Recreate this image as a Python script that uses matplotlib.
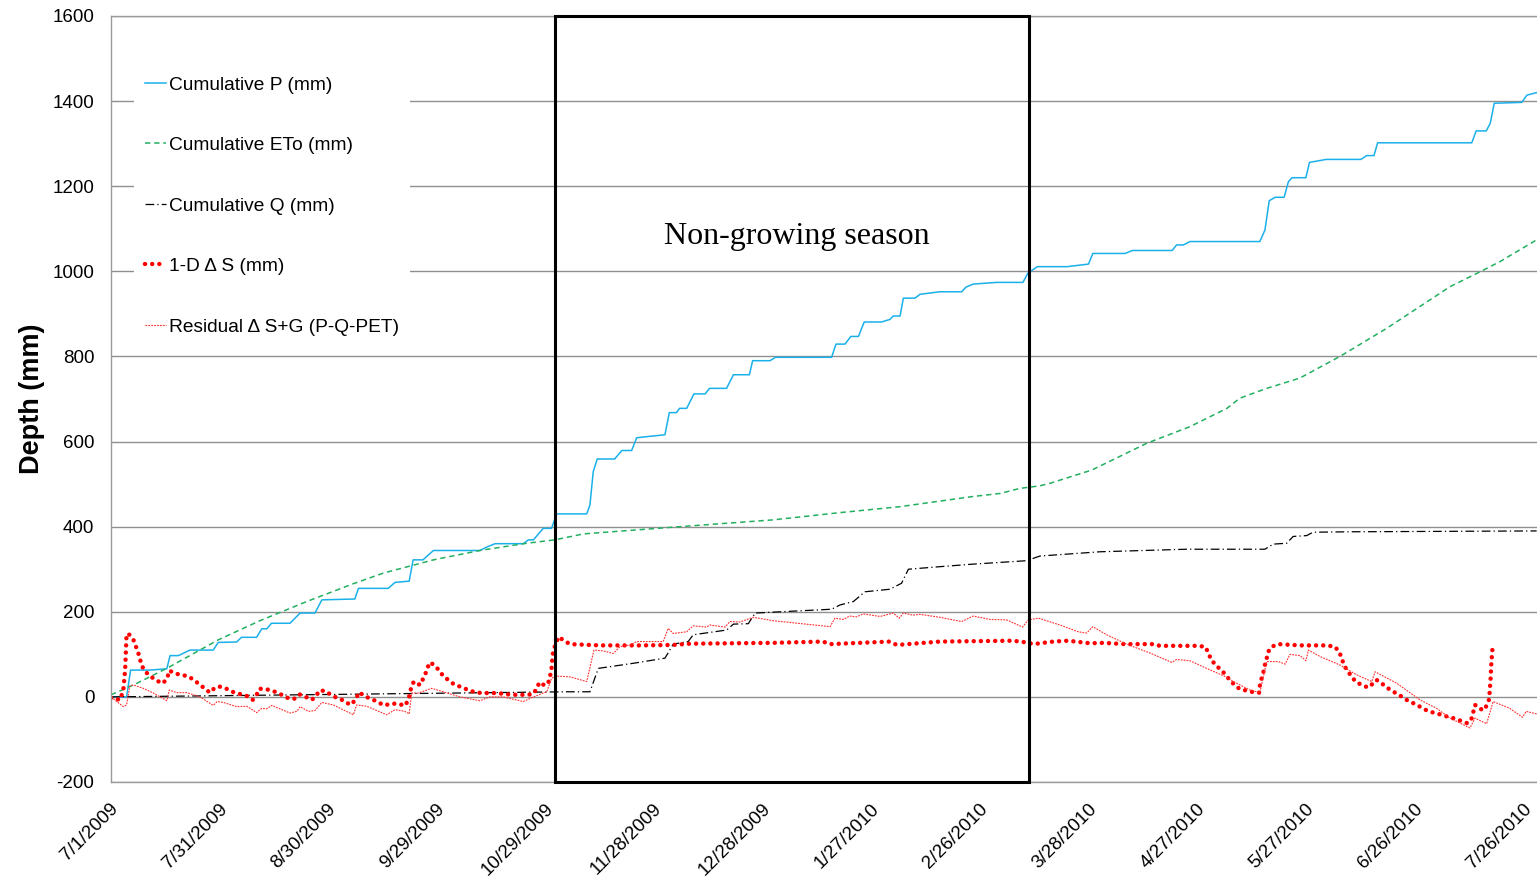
import numpy as np
import matplotlib
matplotlib.use("Agg")
import matplotlib.pyplot as plt
import matplotlib.dates as mdates
from matplotlib.patches import Rectangle
from matplotlib.transforms import ScaledTranslation
from datetime import datetime, timedelta

matplotlib.rcParams['font.family'] = 'sans-serif'
matplotlib.rcParams['font.sans-serif'] = ['Liberation Sans', 'DejaVu Sans']
matplotlib.rcParams['axes.unicode_minus'] = False

# day offsets counted from 7/1/2009
start = datetime(2009, 7, 1)

p_days = [0, 4.3, 5.4, 10.8, 15.4, 16.3, 18.6, 21.8, 28.2, 29.6, 34.7, 36, 40.2, 41.6, 43, 44.3,
          49.4, 52.2, 56.3, 58.2, 67.3, 68.3, 76.5, 78.4, 82.3, 83.4, 86.1, 89, 101.8, 103.7, 106,
          113.8, 115.2, 116.6, 119.3, 121.6, 123, 131.3, 132.2, 133.1, 134.2, 139, 141, 143.7,
          145.1, 152.9, 154.1, 156.1, 156.9, 158.9, 160.9, 164, 165.2, 169.9, 171.8, 176.2, 177.1,
          181.9, 183.4, 198.9, 200.1, 202.6, 204.2, 206.3, 207.9, 212.7, 215, 215.9, 217.8, 218.7,
          221.9, 223.3, 228.8, 234.8, 236, 238, 244.4, 251.7, 253.1, 255.7, 263.9, 269.8, 271,
          279.9, 281.9, 292.9, 294.1, 296, 297.8, 317.1, 318.5, 319.7, 321.3, 323.8, 325, 326,
          329.8, 330.8, 335.4, 345, 346.6, 348.6, 349.6, 375.6, 376.8, 379.6, 380.7, 381.8, 389.4,
          390.8, 393.5]
p_vals = [0, 0, 63, 63, 66, 97, 97, 110, 110, 128, 129, 140, 140, 160, 160, 173,
          173, 197, 197, 228, 230, 255, 255, 269, 272, 322, 322, 344, 344, 352, 360,
          360, 369, 369, 396, 396, 430, 430, 451, 529, 559, 559, 579, 579,
          609, 616, 668, 668, 678, 678, 712, 712, 725, 725, 757, 757, 790,
          790, 798, 798, 829, 829, 847, 847, 881, 881, 887, 895, 895, 937,
          937, 946, 952, 952, 963, 970, 974, 974, 996, 1011, 1011, 1017, 1042,
          1042, 1049, 1049, 1062, 1062, 1070, 1070, 1097, 1166, 1174, 1174, 1211, 1220,
          1220, 1256, 1263, 1263, 1272, 1272, 1302, 1302, 1330, 1330, 1348, 1395, 1397,
          1414, 1420]

eto_days = [0, 6.2, 15.4, 29.6, 41.1, 54, 66.9, 75.2, 89, 101.8, 114.7, 122.5, 130.4, 157,
            182.8, 201.2, 217.8, 238, 245.4, 250.9, 256.4, 259.2, 270.7, 285.9, 297.8, 308,
            311.6, 319, 328.1, 339.2, 352.1, 369.6, 377.9, 383.4, 393.5]
eto_vals = [5, 28, 67, 134, 179, 224, 266, 291, 322, 344, 361, 369, 383, 400,
            416, 433, 447, 471, 478, 490, 496, 502, 533, 596, 635, 678,
            702, 725, 749, 800, 866, 964, 999, 1023, 1074]

q_days = [0, 53, 126, 132.2, 134.5, 144.2, 152.9, 155.2, 159.3, 160.7, 169.9, 171.8, 175.9,
          177.8, 198.9, 201.2, 204.9, 208.1, 215, 218.2, 220.1, 228.8, 238, 252.7, 256.4, 273,
          296.9, 318.5, 320.8, 324.5, 326.3, 330, 331.8, 342.8, 393.5]
q_vals = [0, 5, 12, 12, 67, 79, 91, 124, 130, 146, 157, 171, 172,
          197, 206, 216, 224, 247, 253, 267, 300, 306, 312, 320, 331, 341,
          347, 347, 359, 361, 377, 379, 387, 388, 390]

ds_days = [0, 2.5, 3.4, 3.9, 4.3, 5.1, 6.2, 7.5, 8.5, 9.5, 11.0, 12.6, 14.4, 15.6, 16.1, 17.2,
           19.0, 21.1, 22.7, 24.3, 25.8, 27.3, 28.7, 30.1, 31.9, 33.8, 37.5, 39.1, 40.2, 40.9,
           42.5, 43.7, 45.3, 47.1, 48.9, 50.5, 52.0, 53.5, 55.4, 56.6, 57.5, 59.1, 60.7, 62.5,
           64.4, 66.0, 67.3, 68.5, 70.1, 72.0, 73.8, 75.4, 77.3, 79.3, 81.1, 82.1, 82.5, 83.0,
           83.6, 85.3, 86.7, 87.3, 88.0, 89.2, 90.6, 91.7, 93.4, 94.9, 96.8, 98.6, 100.5, 102.3,
           106.5, 110.6, 114.3, 116.3, 117.5, 118.2, 119.5, 120.6, 121.2, 121.6, 121.9, 122.3,
           123.5, 125.3, 126.7, 135, 146, 155, 159.8, 182.7, 196.5, 198.5, 215, 216.9, 228.8,
           249, 252.7, 254.6, 260.1, 264.2, 270.2, 273.9, 279.9, 287.7, 289.5, 299.7, 302,
           302.9, 303.6, 304.9, 306.4, 307.7, 308.9, 310.2, 311.6, 313.9, 315.8, 316.9, 317.1,
           317.6, 318.1, 318.5, 319, 319.4, 320.4, 322.2, 328.2, 335.5, 337.8, 339, 339.7, 340.3,
           341.2, 343.5, 345.2, 347, 348.4, 349.3, 351, 352.5, 354.4, 356, 357.6, 359.5, 361.3,
           363.2, 365, 366.8, 368.7, 370.5, 372.5, 374.4, 375.6, 376, 376.5, 377.4, 378.6, 379.7,
           380.4, 380.8, 381, 381.4]
ds_vals = [-2, -7, 16, 63, 148, 146, 134, 104, 73, 59, 48, 38, 32, 46, 62, 57,
           52, 49, 41, 30, 20, 10, 22, 24, 19, 11, 2, -7, 5, 19,
           19, 16, 12, 5, -3, -5, 6, 1, -7, 2, 15, 14, 5, -3,
           -9, -19, -9, 11, 1, -5, -13, -20, -16, -16, -21, -7, 9, 26,
           36, 28, 52, 67, 81, 75, 62, 49, 38, 28, 23, 16, 11, 9,
           9, 5, 5, 6, 18, 34, 28, 30, 49, 67, 99, 114,
           141, 131, 124, 121, 121, 122, 125, 127, 130, 124, 130, 122, 130,
           132, 128, 124, 130, 132, 126, 127, 124, 124, 120, 120, 118,
           104, 88, 75, 63, 52, 38, 28, 18, 14, 10, 10, 26,
           44, 59, 75, 91, 106, 118, 124, 121, 121, 118, 106, 91, 75,
           62, 36, 28, 22, 32, 40, 30, 20, 10, 2, -7, -15, -23,
           -32, -37, -41, -46, -50, -56, -62, -50, -36, -19, -23, -32, -21,
           -5, 44, 79, 124]

res_days = [0, 1.6, 3.4, 4.3, 5.2, 6.2, 8.9, 11.7, 15.4, 16.1, 18.1, 20.9, 24.6, 28.2, 29.3,
            31, 34.7, 37.5, 40.2, 41.6, 43, 44.4, 49.4, 51.3, 52.2, 54.5, 56.3, 58.2, 61.4,
            66.9, 67.8, 70.6, 76.1, 78.4, 81.1, 82.3, 83, 84.8, 88.5, 91.7, 96.3, 101.8, 104.6,
            108.2, 113.8, 116.6, 119.3, 120.3, 121.6, 123, 126.7, 131.3, 133.3, 135.9, 138.6,
            140.5, 143.3, 145.1, 152.4, 153.8, 155.2, 158.9, 160.7, 164.4, 165.3, 169.5, 170.8,
            173.6, 177.3, 182.8, 198.5, 199.8, 202.1, 203.9, 205.8, 207.6, 212.3, 215.9, 217.6,
            218.7, 221.4, 223.3, 228.8, 234.8, 238, 242.6, 247.2, 251.6, 253.2, 256, 261.9, 267,
            269.3, 271, 274.8, 280.3, 286.8, 292.8, 294.1, 297.8, 302.4, 307.5, 309.8, 314.4,
            317.1, 319, 322.2, 324.1, 325.4, 328.2, 329.8, 330.5, 333.7, 339.2, 343.8, 348,
            348.9, 354.9, 361.3, 365.9, 369.6, 375.1, 376.5, 379.7, 381.5, 386.1, 389.6, 390.6,
            393.5]
res_vals = [0, -11, -23, -19, 26, 28, 20, 9, -9, 16, 10, 10, 0, -20, -11,
            -13, -23, -22, -37, -27, -28, -20, -38, -34, -23, -34, -32, -13, -19,
            -42, -19, -22, -42, -30, -34, -40, 9, 9, 20, 12, 0, -9, 0,
            0, -11, 0, 9, 12, 44, 49, 47, 36, 110, 108, 102,
            118, 122, 130, 130, 161, 149, 153, 167, 164, 169, 164, 177,
            176, 187, 179, 165, 185, 182, 190, 188, 195, 189, 197, 185,
            197, 192, 194, 187, 177, 190, 182, 181, 164, 181, 185, 169, 153,
            150, 165, 146, 124, 103, 81, 88, 85, 67, 48, 36, 16,
            10, 83, 83, 77, 100, 97, 85, 110, 95, 75, 52, 36,
            59, 32, -7, -27, -50, -73, -50, -63, -11, -27, -48, -34,
            -40]

box_days = [122.5, 253.4]
label_day, label_val = 189.3, 1083
tick_days = np.arange(0, 391, 30)


def to_num(days):
    return mdates.date2num(start) + np.asarray(days, dtype=float)


fig = plt.figure(figsize=(15.37, 8.77), dpi=100)
ax = fig.add_axes([111 / 1537, 95 / 877, 1426 / 1537, 766 / 877])

ax.plot(to_num(p_days), p_vals, color='#1AB0EA', lw=1.1, label='Cumulative P (mm)')
ax.plot(to_num(eto_days), eto_vals, color='#22B060', lw=1.1, dashes=(3.5, 2.5),
        label='Cumulative ETo (mm)')
ax.plot(to_num(q_days), q_vals, color='black', lw=0.9, dashes=(7, 2.5, 1, 2.5),
        label='Cumulative Q (mm)')
ax.plot(to_num(ds_days), ds_vals, color='red', lw=3.2, linestyle=(0, (0.01, 1.6)),
        dash_capstyle='round', label='1-D \u0394 S (mm)')
ax.plot(to_num(res_days), res_vals, color='#FF3030', lw=0.8, linestyle=(0, (1.6, 1.0)),
        label='Residual \u0394 S+G (P-Q-PET)')

# non-growing season box
x0, x1 = to_num(box_days)
ax.add_patch(Rectangle((x0, -200), x1 - x0, 1800, fill=False, edgecolor='black',
                       lw=2.2, zorder=5, clip_on=False))
ax.text(to_num([label_day])[0], label_val, 'Non-growing season', fontsize=23,
        family='Liberation Serif', ha='center', va='center')

ax.set_ylim(-200, 1600)
ax.set_yticks(np.arange(-200, 1601, 200))
ax.set_xlim(to_num([0])[0], to_num([393.6])[0])
ax.set_xticks(to_num(tick_days))
ax.set_xticklabels([f"{d.month}/{d.day}/{d.year}" for d in
                    [start + timedelta(days=int(t)) for t in tick_days]],
                   rotation=45, ha='right', va='center', rotation_mode='anchor', fontsize=13.5)
ax.tick_params(axis='x', length=0, pad=17.5)
ax.tick_params(axis='y', length=0, pad=12, labelsize=13.5)
# nudge the date labels a little to the right, like the original
shift = ScaledTranslation(5 / 100, 0, fig.dpi_scale_trans)
for lbl in ax.get_xticklabels():
    lbl.set_transform(lbl.get_transform() + shift)

ax.grid(axis='y', color='#8f8f8f', lw=1.0)
ax.set_axisbelow(True)
for s in ['left', 'bottom', 'top']:
    ax.spines[s].set_color('#9a9a9a')
    ax.spines[s].set_linewidth(1.0)
ax.spines['right'].set_visible(False)

ax.set_ylabel('Depth (mm)', fontsize=19.5, weight='bold')
ax.yaxis.set_label_coords((45 - 111) / 1426, 0.5)

leg = ax.legend(loc='upper left', bbox_to_anchor=((124 - 111) / 1426, (782 - 55) / 766),
                fontsize=13.8, frameon=True, fancybox=False, framealpha=1,
                edgecolor='none', facecolor='white', handlelength=1.08,
                handletextpad=0.15, labelspacing=2.25, borderpad=0.6)
leg.set_zorder(6)

plt.savefig('out.png', dpi=100)
